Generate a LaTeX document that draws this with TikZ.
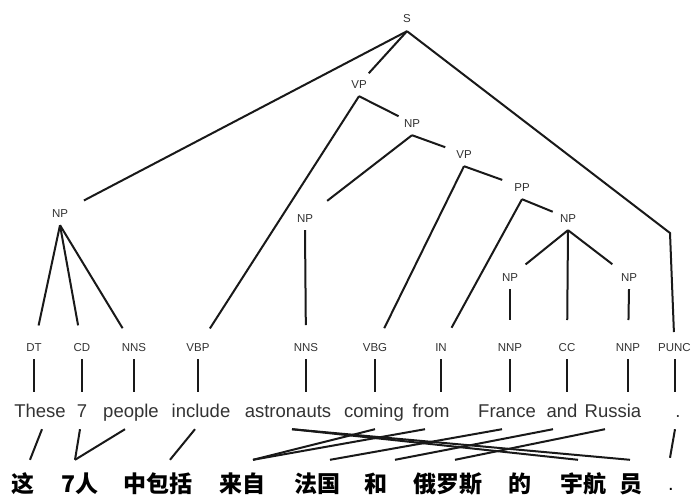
\documentclass[tikz,border=0pt]{standalone}
\usepackage{fontspec}
\setmainfont{Liberation Sans}
\newfontfamily\cjk{Noto Sans CJK SC}
\begin{document}
\begin{tikzpicture}[x=1pt,y=-1pt,
  lbl/.style={font=\fontsize{11.5}{11.5}\selectfont, text=black!80, inner xsep=1pt, inner ysep=8pt, text height=8pt, text depth=0pt, anchor=center},
  word/.style={font=\fontsize{18.5}{18.5}\selectfont, text=black!80, inner xsep=1pt, inner ysep=12pt, text height=13pt, text depth=0pt, anchor=base},
  zh/.style={font=\fontsize{23}{23}\selectfont\cjk\bfseries, text=black, inner xsep=1pt, inner ysep=16pt, text height=16pt, text depth=0pt, anchor=base},
  edge/.style={line width=2pt, black!90}]
\useasboundingbox[fill=white] (0,0) rectangle (698,495);
% phrase labels
\node[lbl] (S) at (407,19) {S};
\node[lbl] (VP1) at (359,84) {VP};
\node[lbl] (NP1) at (412,123) {NP};
\node[lbl] (VP2) at (464,154) {VP};
\node[lbl] (PP) at (522,187) {PP};
\node[lbl] (NP3) at (568,218) {NP};
\node[lbl] (NPa) at (60,213) {NP};
\node[lbl] (NPb) at (305,218) {NP};
\node[lbl] (NPf) at (510,277) {NP};
\node[lbl] (NPr) at (629,277) {NP};
% POS tags
\node[lbl] (DT) at (34,347) {DT};
\node[lbl] (CD) at (82,347) {CD};
\node[lbl] (NNSa) at (134,347) {NNS};
\node[lbl] (VBP) at (198,347) {VBP};
\node[lbl] (NNSb) at (306,347) {NNS};
\node[lbl] (VBG) at (375,347) {VBG};
\node[lbl] (IN) at (441,347) {IN};
\node[lbl] (NNPa) at (510,347) {NNP};
\node[lbl] (CC) at (567,347) {CC};
\node[lbl] (NNPb) at (628,347) {NNP};
\node[lbl,anchor=west] (PUNC) at (657,347) {PUNC};
% English words
\node[word] (w1) at (40,417) {These};
\node[word] (w2) at (82,417) {7};
\node[word] (w3) at (131,417) {people};
\node[word] (w4) at (201,417) {include};
\node[word] (w5) at (288,417) {astronauts};
\node[word] (w6) at (374,417) {coming};
\node[word] (w7) at (431,417) {from};
\node[word] (w8) at (507,417) {France};
\node[word] (w9) at (562,417) {and};
\node[word] (w10) at (613,417) {Russia};
\node[word] (w11) at (678,417) {.};
% Chinese words
\node[zh] (c1) at (23,492) {这};
\node[zh] (c2) at (80,492) {7人};
\node[zh] (c3) at (158,492) {中包括};
\node[zh] (c4) at (242,492) {来自};
\node[zh] (c5) at (317,492) {法国};
\node[zh] (c6) at (376,492) {和};
\node[zh] (c7) at (448,492) {俄罗斯};
\node[zh] (c8) at (520,492) {的};
\node[zh] (c9) at (583,492) {宇航};
\node[zh] (c10) at (631,492) {员};
\node[zh, font=\fontsize{20}{20}\selectfont] (c11) at (671,490) {.};
% tree edges
\coordinate (pc) at (670,233);
\draw[edge, shorten >=27pt] (S.south) -- (NPa.center);
\draw[edge, shorten >=14.5pt] (S.south) -- (VP1.center);
\draw[edge, shorten >=15pt] (S.south) -- (pc) -- (PUNC.center);
\draw[edge, shorten >=22pt] (VP1.south) -- (VBP.center);
\draw[edge, shorten >=15pt] (VP1.south) -- (NP1.center);
\draw[edge, shorten >=28pt] (NP1.south) -- (NPb.center);
\draw[edge, shorten >=20pt] (NP1.south) -- (VP2.center);
\draw[edge, shorten >=21pt] (VP2.south) -- (VBG.center);
\draw[edge, shorten >=21pt] (VP2.south) -- (PP.center);
\draw[edge, shorten >=22pt] (PP.south) -- (IN.center);
\draw[edge, shorten >=16.5pt] (PP.south) -- (NP3.center);
\draw[edge, shorten >=20pt] (NP3.south) -- (NPf.center);
\draw[edge, shorten >=27pt] (NP3.south) -- (CC.center);
\draw[edge, shorten >=21pt] (NP3.south) -- (NPr.center);
\draw[edge, shorten >=27pt] (NPf.south) -- (NNPa.center);
\draw[edge, shorten >=27pt] (NPr.south) -- (NNPb.center);
\draw[edge, shorten >=22pt] (NPa.south) -- (DT.center);
\draw[edge, shorten >=22pt] (NPa.south) -- (CD.center);
\draw[edge, shorten >=22pt] (NPa.south) -- (NNSa.center);
\draw[edge, shorten >=22pt] (NPb.south) -- (NNSb.center);
% tag to word
\foreach \t/\w in {DT/w1,CD/w2,NNSa/w3,VBP/w4,NNSb/w5,VBG/w6,IN/w7,NNPa/w8,CC/w9,NNPb/w10,PUNC/w11}
  \draw[edge] (\t.south) -- (\t.south |- \w.north);
% alignments
\draw[edge] ([xshift=2pt]w1.south) -- ([xshift=7pt]c1.north);
\draw[edge] ([xshift=-2pt]w2.south) -- ([xshift=-5pt]c2.north);
\draw[edge] ([xshift=-6pt]w3.south) -- ([xshift=-5pt]c2.north);
\draw[edge] ([xshift=-6pt]w4.south) -- ([xshift=12pt]c3.north);
\draw[edge] ([xshift=4pt]w5.south) -- ([xshift=-5pt]c9.north);
\draw[edge] ([xshift=4pt]w5.south) -- ([xshift=-1pt]c10.north);
\draw[edge] ([xshift=1pt]w6.south) -- ([xshift=11pt]c4.north);
\draw[edge] ([xshift=-6pt]w7.south) -- ([xshift=11pt]c4.north);
\draw[edge] ([xshift=-5pt]w8.south) -- ([xshift=13pt]c5.north);
\draw[edge] ([xshift=-9pt]w9.south) -- ([xshift=19pt]c6.north);
\draw[edge] ([xshift=-8pt]w10.south) -- ([xshift=7pt]c7.north);
\draw[edge] ([xshift=-3pt]w11.south) -- ([xshift=-1pt]c11.north);
\end{tikzpicture}
\end{document}
